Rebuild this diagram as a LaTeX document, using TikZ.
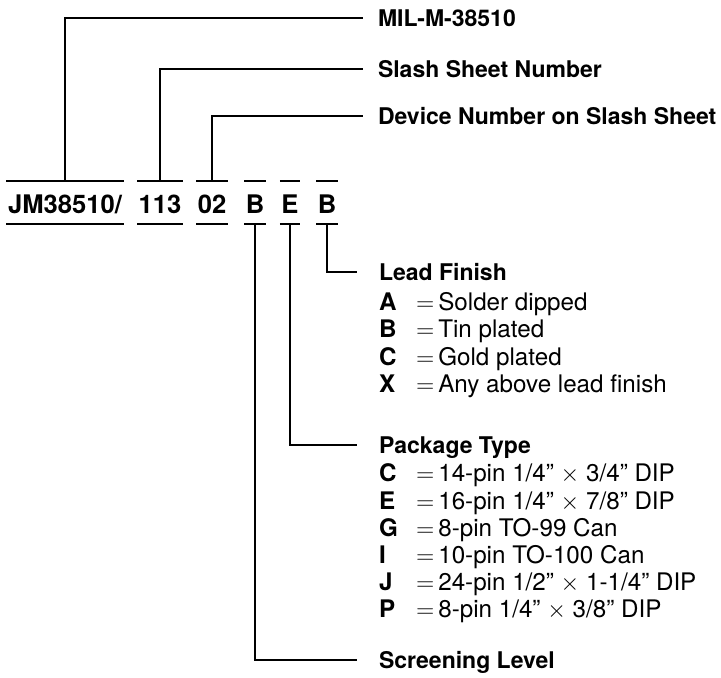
\documentclass[tikz,border=0pt]{standalone}
\usepackage{fontspec}
\setmainfont{TeX Gyre Heros}
\usepackage{tikz}
\newcommand{\codefnt}{\bfseries\fontsize{12.8}{15}\selectfont}
\newcommand{\lblfnt}{\bfseries\fontsize{11.5}{14}\selectfont}
\newcommand{\itemfnt}{\fontsize{12.1}{14}\selectfont}
\newcommand{\key}[1]{\makebox[18.5pt][l]{\textbf{#1}}$=$\,}
\begin{document}
\begin{tikzpicture}[x=0.5pt,y=-0.5pt,line width=1pt,
  code/.style={anchor=base,font=\codefnt,inner xsep=0.3pt,inner ysep=0pt,
    text height=15.5pt,text depth=5pt},
  toplbl/.style={anchor=west,font=\lblfnt,inner xsep=7pt,inner ysep=0pt,
    text height=8.3pt,text depth=0pt},
  lowlbl/.style={toplbl,inner xsep=10.5pt},
  item/.style={anchor=base west,font=\itemfnt,inner sep=0pt}]
 \useasboundingbox (0,0) rectangle (721,677);
 % the part number
 \node[code] (jm) at (65,213) {JM38510/};
 \node[code] (sheet) at (160,213) {113};
 \node[code] (dev) at (212,213) {02};
 \node[code] (scr) at (255,213) {B};
 \node[code] (pkg) at (290,213) {E};
 \node[code] (fin) at (327,213) {B};
 \foreach \n in {jm,sheet,dev,scr,pkg,fin}
   {\draw (\n.north west) -- (\n.north east) (\n.south west) -- (\n.south east);}
 % fields above
 \node[toplbl] (mil) at (363,18) {MIL-M-38510};
 \node[toplbl] (slash) at (363,69) {Slash Sheet Number};
 \node[toplbl] (devnum) at (363,116) {Device Number on Slash Sheet};
 \draw (jm.north) |- (mil.west);
 \draw (sheet.north) |- (slash.west);
 \draw (dev.north) |- (devnum.west);
 % fields below
 \node[lowlbl] (lead) at (357,272) {Lead Finish};
 \node[lowlbl] (pack) at (357,445) {Package Type};
 \node[lowlbl] (screen) at (357,660) {Screening Level};
 \draw (fin.south) |- (lead.west);
 \draw (pkg.south) |- (pack.west);
 \draw (scr.south) |- (screen.west);
 \foreach \k/\t [count=\i] in {A/Solder dipped,B/Tin plated,
     C/Gold plated,X/Any above lead finish}
   {\node[item] (lf\i) at (378,283.5+27.2*\i) {\key{\k}\t};}
 \foreach \k/\t [count=\i] in {C/{14-pin 1/4'' $\times$ 3/4'' DIP},
     E/{16-pin 1/4'' $\times$ 7/8'' DIP},G/8-pin TO-99 Can,I/10-pin TO-100 Can,
     J/{24-pin 1/2'' $\times$ 1-1/4'' DIP},P/{8-pin 1/4'' $\times$ 3/8'' DIP}}
   {\node[item] (pt\i) at (378,454.6+27.2*\i) {\key{\k}\t};}
\end{tikzpicture}
\end{document}
